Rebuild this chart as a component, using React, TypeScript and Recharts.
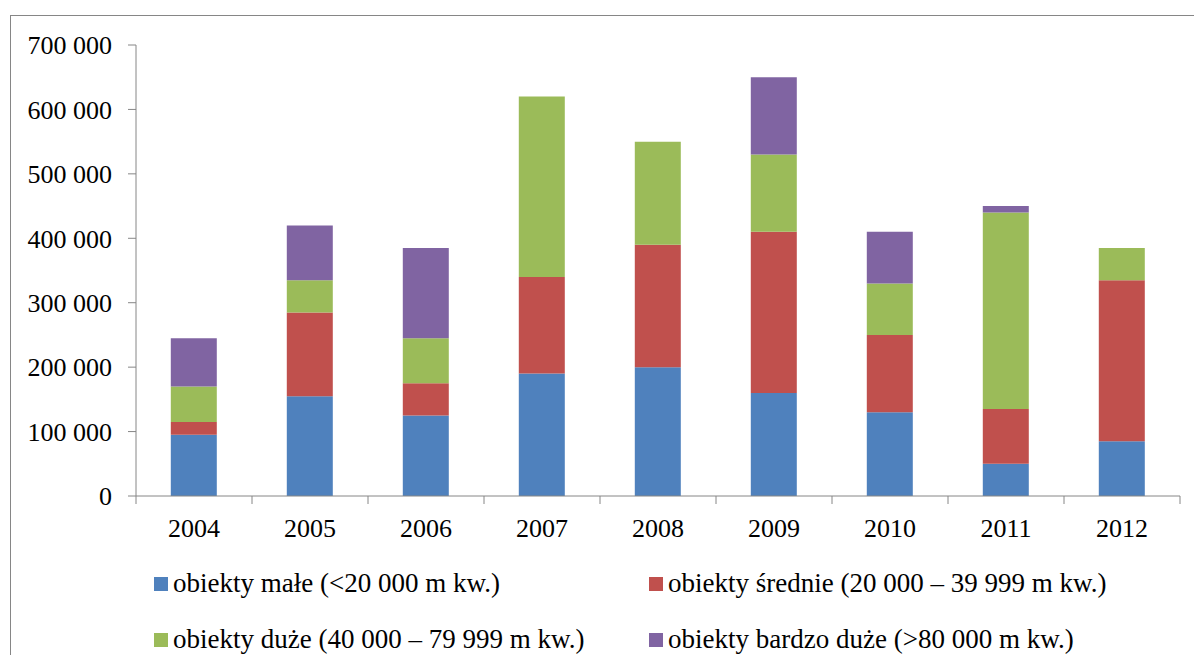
import React from 'react';
import { BarChart, Bar, XAxis, YAxis } from 'recharts';

const years = ['2004', '2005', '2006', '2007', '2008', '2009', '2010', '2011', '2012'];
const small = [95000, 155000, 125000, 190000, 200000, 160000, 130000, 50000, 85000];
const medium = [20000, 130000, 50000, 150000, 190000, 250000, 120000, 85000, 250000];
const large = [55000, 50000, 70000, 280000, 160000, 120000, 80000, 305000, 50000];
const veryLarge = [75000, 85000, 140000, 0, 0, 120000, 80000, 10000, 0];
const yTicks = [0, 100000, 200000, 300000, 400000, 500000, 600000, 700000];

const series = [
  { key: 'small', label: 'obiekty małe (<20 000 m kw.)', color: '#4F81BD' },
  { key: 'medium', label: 'obiekty średnie (20 000 – 39 999 m kw.)', color: '#C0504D' },
  { key: 'large', label: 'obiekty duże (40 000 – 79 999 m kw.)', color: '#9BBB59' },
  { key: 'veryLarge', label: 'obiekty bardzo duże (>80 000 m kw.)', color: '#8064A2' },
];

const data = years.map((year, i) => ({
  year,
  small: small[i],
  medium: medium[i],
  large: large[i],
  veryLarge: veryLarge[i],
}));

const font = '"Liberation Serif", "Times New Roman", serif';
const axisColor = '#868686';

// thousands separated by a space, like "700 000"
const fmt = (v: number) => String(v).replace(/\B(?=(\d{3})+(?!\d))/g, ' ');

// x ticks sit on category boundaries, not centres
const XTick = (props: any) => {
  const { x, y, payload, index } = props;
  const half = 58;
  const axisY = y - 23;
  return (
    <g>
      <line x1={x - half} y1={axisY} x2={x - half} y2={axisY + 8} stroke={axisColor} />
      {index === years.length - 1 && (
        <line x1={x + half} y1={axisY} x2={x + half} y2={axisY + 8} stroke={axisColor} />
      )}
      <text x={x} y={y} dy="0.71em" textAnchor="middle" fill="#000" fontSize={26} fontFamily={font}>
        {payload.value}
      </text>
    </g>
  );
};

const YTick = (props: any) => {
  const { x, y, payload } = props;
  return (
    <text x={x} y={y} dy="0.355em" textAnchor="end" fill="#000" fontSize={26} style={{ fontFamily: font }}>
      {fmt(payload.value)}
    </text>
  );
};

export default function App() {
  return (
    <div style={{ position: 'fixed', left: 0, top: 0, width: 1194, height: 655, background: '#fff', overflow: 'hidden', fontFamily: font }}>
      <div
        style={{
          position: 'absolute',
          left: 10,
          top: 15,
          right: -5,
          bottom: -5,
          borderLeft: `1px solid ${axisColor}`,
          borderTop: `1px solid ${axisColor}`,
        }}
      />
      <BarChart
        width={1194}
        height={655}
        data={data}
        margin={{ top: 45, right: 14, bottom: 129, left: 0 }}
        barCategoryGap="30%"
        style={{ position: 'absolute', left: 0, top: 0 }}
      >
        <XAxis
          dataKey="year"
          stroke={axisColor}
          tickLine={false}
          tickSize={8}
          tickMargin={15}
          tick={<XTick />}
          interval={0}
        />
        <YAxis
          width={136}
          domain={[0, 700000]}
          ticks={yTicks}
          stroke={axisColor}
          tickSize={8}
          tickMargin={16}
          tick={<YTick />}
          interval={0}
        />
        {series.map(s => (
          <Bar key={s.key} dataKey={s.key} stackId="a" fill={s.color} isAnimationActive={false} />
        ))}
      </BarChart>
      {series.map((s, i) => (
        <div
          key={s.key}
          style={{
            position: 'absolute',
            left: i % 2 === 0 ? 154 : 649,
            top: i < 2 ? 568 : 624,
            display: 'flex',
            alignItems: 'center',
            fontFamily: font,
            fontSize: 27,
            color: '#000',
            whiteSpace: 'nowrap',
          }}
        >
          <span style={{ display: 'inline-block', width: 14, height: 14, background: s.color, marginRight: 5 }} />
          {s.label}
        </div>
      ))}
    </div>
  );
}
